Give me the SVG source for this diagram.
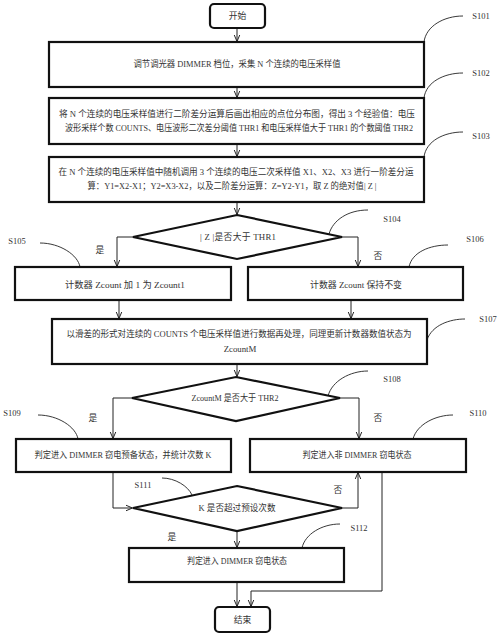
<svg xmlns="http://www.w3.org/2000/svg" width="500" height="636" viewBox="0 0 500 636">
<style>
.box{fill:#fff;stroke:#111;stroke-width:2.2}
.term{fill:#fff;stroke:#111;stroke-width:2.2}
.t{font-family:"Liberation Serif","Noto Sans CJK SC",serif;font-size:8.8px;fill:#333;text-anchor:middle;dominant-baseline:central}
.lbl{font-family:"Liberation Serif","Noto Sans CJK SC",serif;font-size:8.5px;fill:#333;text-anchor:middle;dominant-baseline:central}
.c{fill:none;stroke:#222;stroke-width:1}
.lead{fill:none;stroke:#222;stroke-width:0.9}
</style>
<defs>
<marker id="ar" markerUnits="userSpaceOnUse" viewBox="0 0 10 10" markerWidth="7" markerHeight="8" refX="9.5" refY="5" orient="auto">
<path d="M0,1 L9.5,5 L0,9" fill="none" stroke="#222" stroke-width="1.4"/>
</marker>
</defs>
<rect width="500" height="636" fill="#fff"/>
<g id="connectors">
<path class="c" d="M237,28 V41.5" marker-end="url(#ar)"/>
<path class="c" d="M237,87 V97.5" marker-end="url(#ar)"/>
<path class="c" d="M237,144 V156.5" marker-end="url(#ar)"/>
<path class="c" d="M237,202 V214.5" marker-end="url(#ar)"/>
<path class="c" d="M133,237 H117 V266.5" marker-end="url(#ar)"/>
<path class="c" d="M342,237 H358 V266.5" marker-end="url(#ar)"/>
<path class="c" d="M119,300 V318.5" marker-end="url(#ar)"/>
<path class="c" d="M351,300 V318.5" marker-end="url(#ar)"/>
<path class="c" d="M237,364 V376.5" marker-end="url(#ar)"/>
<path class="c" d="M132,398 H113 V438.5" marker-end="url(#ar)"/>
<path class="c" d="M340,398 H359 V438.5" marker-end="url(#ar)"/>
<path class="c" d="M113,472 V508 H132.5" marker-end="url(#ar)"/>
<path class="c" d="M342,508 H358 V472.5" marker-end="url(#ar)"/>
<path class="c" d="M237,531 V547.5" marker-end="url(#ar)"/>
<path class="c" d="M237,582 V606.5" marker-end="url(#ar)"/>
<path class="c" d="M382,472 V591 H251 V606.5" marker-end="url(#ar)"/>
</g>
<g id="leaders">
<path class="lead" d="M424,42 C426,26 444,16 463,16"/>
<path class="lead" d="M424,98 C426,82 444,73 463,73"/>
<path class="lead" d="M424,157 C426,141 444,132 463,132"/>
<path class="lead" d="M329,234 C333,220 348,210 368,210"/>
<path class="lead" d="M40,243 C60,243 78,255 80,267"/>
<path class="lead" d="M409,267 C412,252 430,245 448,245"/>
<path class="lead" d="M427,340 C432,325 450,319 465,319"/>
<path class="lead" d="M328,396 C332,381 350,371 368,371"/>
<path class="lead" d="M38,415 C58,415 76,427 78,439"/>
<path class="lead" d="M413,439 C417,424 436,415 453,415"/>
<path class="lead" d="M162,478 C175,478 188,486 192,495"/>
<path class="lead" d="M302,548 C305,534 322,524 340,524"/>
</g>
<g id="start"><rect class="term" x="210" y="4" width="55" height="24" rx="4"/><text class="t" x="237.5" y="16">开始</text></g>
<g id="S101"><rect class="box" x="49" y="42" width="375" height="45"/><text class="t" x="237" y="64" textLength="207" lengthAdjust="spacingAndGlyphs">调节调光器 DIMMER 档位，采集 N 个连续的电压采样值</text><text class="lbl" x="481" y="16">S101</text></g>
<g id="S102"><rect class="box" x="49" y="98" width="375" height="46"/><text class="t" x="237" y="114" textLength="356" lengthAdjust="spacingAndGlyphs">将 N 个连续的电压采样值进行二阶差分运算后画出相应的点位分布图，得出 3 个经验值：电压</text><text class="t" x="239" y="128" textLength="348" lengthAdjust="spacingAndGlyphs">波形采样个数 COUNTS、电压波形二次差分阈值 THR1 和电压采样值大于 THR1 的个数阈值 THR2</text><text class="lbl" x="481" y="73">S102</text></g>
<g id="S103"><rect class="box" x="49" y="157" width="375" height="45"/><text class="t" x="236" y="172" textLength="355" lengthAdjust="spacingAndGlyphs">在 N 个连续的电压采样值中随机调用 3 个连续的电压二次采样值 X1、X2、X3 进行一阶差分运</text><text class="t" x="232" y="186" textLength="289" lengthAdjust="spacingAndGlyphs">算：Y1=X2-X1；Y2=X3-X2，以及二阶差分运算：Z=Y2-Y1，取 Z 的绝对值| Z |</text><text class="lbl" x="481" y="136">S103</text></g>
<g id="S104"><polygon class="box" points="237,215 342,237 237,259 133,237"/><text class="t" x="238" y="237" textLength="76" lengthAdjust="spacing">| Z |是否大于 THR1</text><text class="lbl" x="392" y="219">S104</text></g>
<g id="S105"><rect class="box" x="15" y="267" width="216" height="33"/><text class="t" x="125" y="285" textLength="120" lengthAdjust="spacingAndGlyphs">计数器 Zcount 加 1 为 Zcount1</text><text class="lbl" x="17" y="241">S105</text></g>
<g id="S106"><rect class="box" x="248" y="267" width="215" height="33"/><text class="t" x="356" y="285" textLength="92" lengthAdjust="spacingAndGlyphs">计数器 Zcount 保持不变</text><text class="lbl" x="475" y="239">S106</text></g>
<g id="S107"><rect class="box" x="52" y="319" width="375" height="45"/><text class="t" x="239" y="334" textLength="345" lengthAdjust="spacingAndGlyphs">以滑差的形式对连续的 COUNTS 个电压采样值进行数据再处理，同理更新计数器数值状态为</text><text class="t" x="240" y="349">ZcountM</text><text class="lbl" x="488" y="319">S107</text></g>
<g id="S108"><polygon class="box" points="236,377 340,398 236,421 132,398"/><text class="t" x="235" y="398" textLength="87" lengthAdjust="spacingAndGlyphs">ZcountM 是否大于 THR2</text><text class="lbl" x="392" y="379">S108</text></g>
<g id="S109"><rect class="box" x="16" y="439" width="215" height="33"/><text class="t" x="123" y="455" textLength="177" lengthAdjust="spacingAndGlyphs">判定进入 DIMMER 窃电预备状态，并统计次数 K</text><text class="lbl" x="12" y="413">S109</text></g>
<g id="S110"><rect class="box" x="250" y="439" width="216" height="33"/><text class="t" x="357" y="455" textLength="109" lengthAdjust="spacingAndGlyphs">判定进入非 DIMMER 窃电状态</text><text class="lbl" x="478" y="413">S110</text></g>
<g id="S111"><polygon class="box" points="237,486 342,508 237,531 133,508"/><text class="t" x="237" y="508" textLength="77" lengthAdjust="spacingAndGlyphs">K 是否超过预设次数</text><text class="lbl" x="143" y="485">S111</text></g>
<g id="S112"><rect class="box" x="129" y="548" width="215" height="34"/><text class="t" x="237" y="561" textLength="100" lengthAdjust="spacingAndGlyphs">判定进入 DIMMER 窃电状态</text><text class="lbl" x="359" y="528">S112</text></g>
<g id="end"><rect class="term" x="215" y="607" width="55" height="25" rx="4"/><text class="t" x="242.5" y="620">结束</text></g>
<g id="branch-labels">
<text class="t" x="100" y="250">是</text>
<text class="t" x="378" y="256">否</text>
<text class="t" x="93" y="418">是</text>
<text class="t" x="378" y="418">否</text>
<text class="t" x="338" y="490">否</text>
<text class="t" x="172" y="537">是</text>
</g>
</svg>
